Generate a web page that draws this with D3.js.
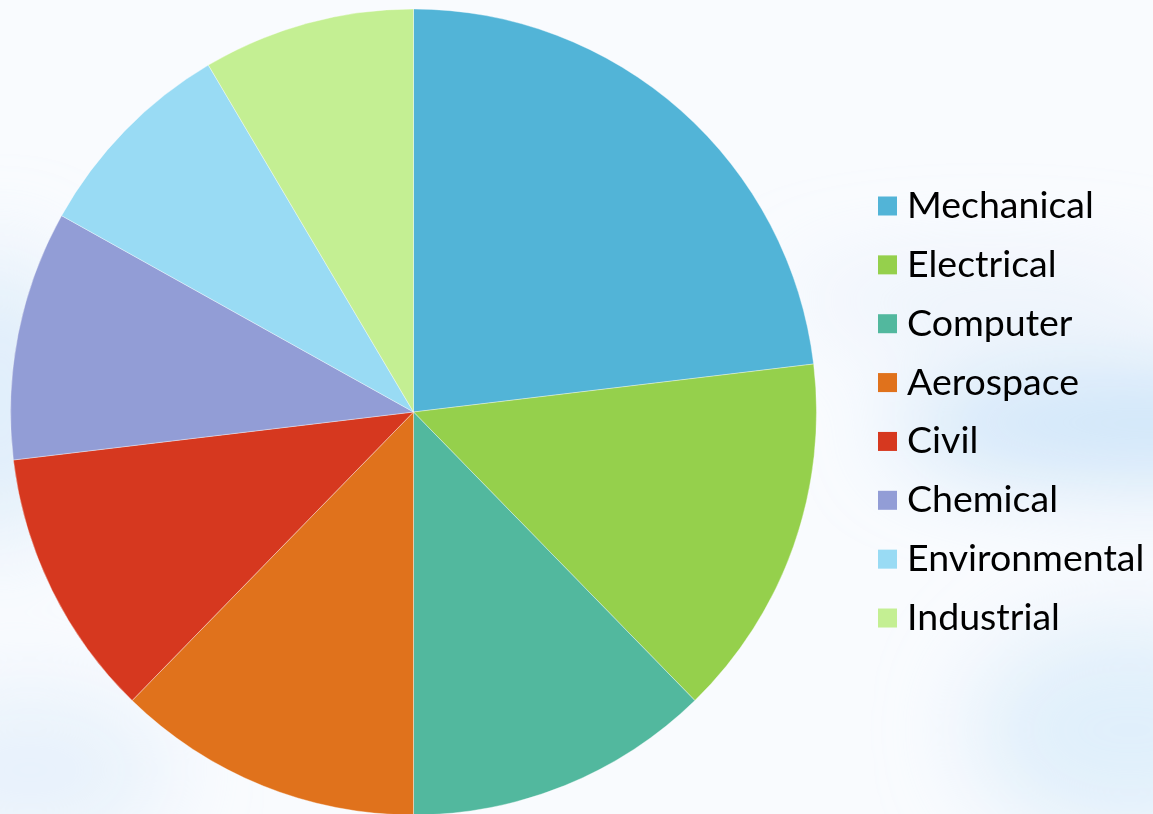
<!DOCTYPE html>
<html>
<head>
<meta charset="utf-8">
<script src="https://cdn.jsdelivr.net/npm/d3@7"></script>
<style>
  html, body { margin:0; padding:0; background:#f8fbfe; }
  svg { display:block; }
</style>
</head>
<body>
<svg id="chart" width="1153" height="814"></svg>
<script>
// data
var categories=["Mechanical","Electrical","Computer","Aerospace","Civil","Chemical","Environmental","Industrial"];
var values=[23.1,14.6,12.3,12.3,10.8,10.0,8.4,8.5];
var colors=["#52b4d7","#95d04c","#52b89e","#e0721c","#d6381f","#929dd6","#99dbf4","#c4ef93"];

var width=1153, height=814;
var cx=413.5, cy=412, radio=403;

var svg=d3.select("#chart");
var defs=svg.append("defs");

// fondo azul claro difuminado
defs.append("filter").attr("id","blur")
    .attr("x","-50%").attr("y","-50%").attr("width","200%").attr("height","200%")
    .append("feGaussianBlur").attr("stdDeviation",45);

svg.append("rect").attr("width",width).attr("height",height).attr("fill","#f9fbfe");

var manchas=[
    {x:1153,y:425,rx:260,ry:55,c:"#c6e1f7",o:0.9},
    {x:1130,y:730,rx:160,ry:110,c:"#d6e9f9",o:0.7},
    {x:0,y:400,rx:70,ry:150,c:"#d2e7f8",o:0.7},
    {x:30,y:770,rx:140,ry:80,c:"#dcebfa",o:0.6},
    {x:990,y:300,rx:200,ry:35,c:"#dbeafa",o:0.5}
];
var g0=svg.append("g").attr("filter","url(#blur)");
manchas.forEach(function(m){
    g0.append("ellipse").attr("cx",m.x).attr("cy",m.y).attr("rx",m.rx).attr("ry",m.ry)
        .attr("fill",m.c).attr("opacity",m.o);
});

// pie
var pie=d3.pie().sort(null).value(function(d){ return d; });
var arco=d3.arc().innerRadius(0).outerRadius(radio);

var gPie=svg.append("g").attr("transform","translate("+cx+","+cy+")");

gPie.selectAll("path").data(pie(values)).enter().append("path")
    .attr("d",arco)
    .attr("fill",function(d,i){ return colors[i]; })
    .attr("stroke","#ffffff")
    .attr("stroke-opacity",0.45)
    .attr("stroke-width",0.8);

// legend
var legX=878, legY0=206, paso=58.86, cuadro=19;
var gLeg=svg.append("g");

categories.forEach(function(c,i){
    var y=legY0+i*paso;
    gLeg.append("rect")
        .attr("x",legX).attr("y",y-cuadro/2)
        .attr("width",cuadro).attr("height",cuadro)
        .attr("fill",colors[i]);
    gLeg.append("text")
        .attr("x",legX+29).attr("y",y+12)
        .style("font-family","Lato")
        .style("font-size","37.5px")
        .style("fill","#000000")
        .text(c);
});
</script>
</body>
</html>
